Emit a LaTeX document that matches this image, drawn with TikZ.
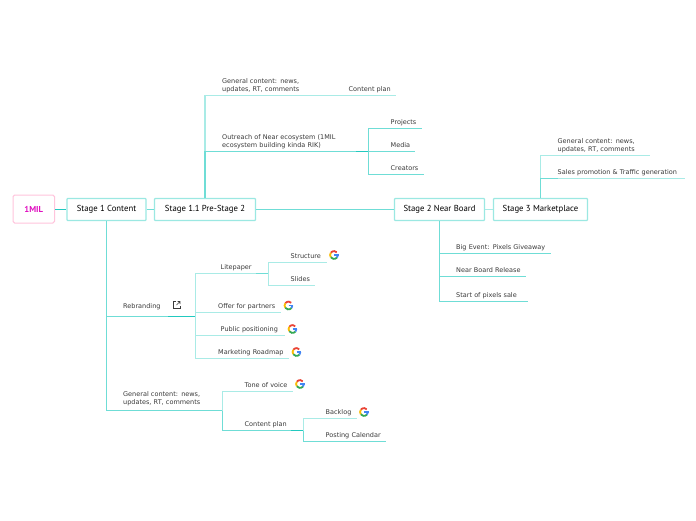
\documentclass[tikz,border=0pt]{standalone}
\usepackage{fontspec}
\setmainfont{DejaVu Sans}
\newfontfamily\stagefont{PT Sans}
\definecolor{linepale}{HTML}{A9EBE6}
\definecolor{linemid}{HTML}{6FDDD6}
\definecolor{linedark}{HTML}{22C9BF}
\definecolor{boxline}{HTML}{9BE8E2}
\definecolor{inkgrey}{HTML}{3A3A3A}
\definecolor{rootpink}{HTML}{FFC4DC}
\definecolor{gred}{HTML}{EA4335}
\definecolor{gyel}{HTML}{FBBC05}
\definecolor{ggrn}{HTML}{34A853}
\definecolor{gblu}{HTML}{4285F4}
\tikzset{
  x=1pt,y=-1pt,
  topic/.style={inner sep=0pt,anchor=south west,align=left,text=inkgrey,
    font=\fontsize{6.5}{8.3}\selectfont},
  stagebox/.style={draw=boxline,line width=1.3pt,fill=white,rounded corners=0.8pt,
    inner sep=0pt,font=\stagefont\fontsize{8.7}{11}\selectfont,text=black},
  rootbox/.style={draw=#1,line width=1pt,fill=white,rounded corners=1.6pt,inner sep=0pt,
    font=\stagefont\bfseries\fontsize{8.6}{10}\selectfont,text={rgb,255:red,224;green,16;blue,192}},
  pale/.style={draw=linepale,line width=1.2pt},
  mid/.style={draw=linemid,line width=1.2pt},
  dark/.style={draw=linedark,line width=1.4pt},
  gicon/.pic={
    \draw[gred,line width=1.8pt] (145:3.9pt) arc[start angle=145,end angle=45,radius=3.9pt];
    \draw[gyel,line width=1.8pt] (215:3.9pt) arc[start angle=215,end angle=145,radius=3.9pt];
    \draw[ggrn,line width=1.8pt] (320:3.9pt) arc[start angle=320,end angle=215,radius=3.9pt];
    \draw[gblu,line width=1.8pt] (360:3.9pt) arc[start angle=360,end angle=320,radius=3.9pt];
    \draw[gblu,line width=1.6pt] (0.2pt,0pt) -- (4.7pt,0pt);
  },
}
\newcommand{\topic}[6][3.8]{\node[topic,text width={(#4-#3)*1pt}] (#2) at (#3,#5) {#6\rule[-#1pt]{0pt}{1pt}};}
\newcommand{\stagetext}[1]{\raisebox{-0.6pt}{#1}}
\begin{document}
\begin{tikzpicture}
\useasboundingbox (0,0) rectangle (696,520);
\fill[white] (0,0) rectangle (696,520);
% stages
\node[rootbox=rootpink,minimum width=41.5pt,minimum height=28pt] (root) at (33.8,209) {\stagetext{1MIL}};
\node[stagebox,minimum width=79pt,minimum height=22pt] (s1) at (106.5,209.5) {\stagetext{Stage 1 Content}};
\node[stagebox,minimum width=101pt,minimum height=22pt] (s11) at (205,209.5) {\stagetext{Stage 1.1 Pre-Stage 2}};
\node[stagebox,minimum width=90pt,minimum height=22pt] (s2) at (439.5,209.5) {\stagetext{Stage 2 Near Board}};
\node[stagebox,minimum width=94pt,minimum height=22pt] (s3) at (540.5,209.5) {\stagetext{Stage 3 Marketplace}};
% topics
\topic[3.7]{gen}{222}{343}{95.5}{General content: news,\\updates, RT, comments}
\topic{cplan}{348.5}{396}{95.5}{Content plan}
\topic[3.4]{out}{222}{356}{151.5}{Outreach of Near ecosystem (1MIL\\ecosystem building kinda RIK)}
\coordinate (brOut) at (368.5,151.5);
\topic{proj}{390.5}{422}{128.5}{Projects}
\topic{media}{390.5}{415}{151.5}{Media}
\topic{creat}{390.5}{424}{174.5}{Creators}
\topic[7.6]{rebr}{123}{168}{316.5}{Rebranding}
\coordinate (brReb) at (195.5,316.5);
\topic{lite}{220.5}{256}{273.5}{Litepaper}
\coordinate (brLite) at (268.5,273.5);
\topic{struct}{290.5}{326.7}{262.5}{Structure}
\topic{slides}{290.5}{315}{285.5}{Slides}
\topic{offer}{218}{280.7}{312.5}{Offer for partners}
\topic{public}{220.5}{285}{335.5}{Public positioning}
\topic{market}{218}{289}{358.5}{Marketing Roadmap}
\topic[5.8]{gen2}{123}{210}{410.5}{General content: news,\\updates, RT, comments}
\coordinate (brGen) at (222.5,410.5);
\topic{tone}{244.5}{292.7}{391.5}{Tone of voice}
\topic{cplan2}{244.5}{291}{430.5}{Content plan}
\coordinate (brPlan) at (303.5,430.5);
\topic{back}{325.5}{356.5}{418.5}{Backlog}
\topic{post}{325.5}{386}{441.5}{Posting Calendar}
\topic{big}{456}{550.7}{253.5}{Big Event: Pixels Giveaway}
\topic{nearb}{456}{526}{276.5}{Near Board Release}
\topic{start}{456}{528}{301.5}{Start of pixels sale}
\topic[3.7]{gen3}{557.5}{650}{155.5}{General content: news,\\updates, RT, comments}
\topic{sales}{557.5}{685}{178.5}{Sales promotion \& Traffic generation}
% main axis
\draw[dark] (root.east |- s1.west) -- (s1.west);
\draw[mid] (s1) -- (s11);
\draw[mid] (s11) -- (s2);
\draw[pale] (s2) -- (s3);
% stage 1.1
\draw[pale] (out.south west -| s11.north) |- (gen.south west) -- (gen.south east) -- (cplan.south west) -- (cplan.south east);
\draw[mid] (s11.north) |- (out.south west) -- (out.south east);
\draw[dark] (out.south east) -- (brOut);
\draw[mid] (brOut) |- (proj.south west) -- (proj.south east);
\draw[mid] (brOut) -- (media.south west -| brOut) -- (media.south east);
\draw[mid] (brOut) |- (creat.south west) -- (creat.south east);
% stage 1
\draw[mid] (rebr.south west -| s1.south) |- (gen2.south west) -- (gen2.south east);
\draw[mid] (s1.south) |- (rebr.south west) -- (rebr.south east);
\draw[dark] (rebr.south east) -- (brReb);
\draw[mid] (gen2.south east) -- (brGen);
\draw[pale] (brReb) |- (lite.south west) -- (lite.south east);
\draw[pale] (brReb) |- (offer.south west) -- (offer.south east);
\draw[pale] (brReb) |- (public.south west) -- (public.south east);
\draw[pale] (brReb) |- (market.south west) -- (market.south east);
\draw[mid] (lite.south east) -- (brLite);
\draw[pale] (brLite) |- (struct.south west) -- (struct.south east);
\draw[pale] (brLite) |- (slides.south west) -- (slides.south east);
\draw[pale] (brGen) |- (tone.south west) -- (tone.south east);
\draw[mid] (brGen) |- (cplan2.south west) -- (cplan2.south east);
\draw[dark] (cplan2.south east) -- (brPlan);
\draw[pale] (brPlan) |- (back.south west) -- (back.south east);
\draw[mid] (brPlan) |- (post.south west) -- (post.south east);
% stage 2
\draw[mid] (s2.south) |- (start.south west) -- (start.south east);
\draw[mid] (s2.south) |- (nearb.south west) -- (nearb.south east);
\draw[mid] (s2.south) |- (big.south west) -- (big.south east);
% stage 3
\draw[pale] (sales.south west -| s3.north) |- (gen3.south west) -- (gen3.south east);
\draw[pale] (sales.south west) -- (sales.south east);
\draw[mid] (s3.north) |- (sales.south west);
% icons
\pic at (334,255) {gicon};
\pic at (288.5,305.5) {gicon};
\pic at (292.5,329) {gicon};
\pic at (296.5,352) {gicon};
\pic at (300,384) {gicon};
\pic at (364,412) {gicon};
% external link icon
\draw[inkgrey,line width=0.55pt] (176,301.5) -- (173.5,301.5) -- (173.5,308) -- (180,308) -- (180,305.5);
\draw[inkgrey,line width=0.55pt] (176.5,305) -- (180,301.5) (177.5,301.5) -- (180,301.5) -- (180,304);
\end{tikzpicture}
\end{document}
